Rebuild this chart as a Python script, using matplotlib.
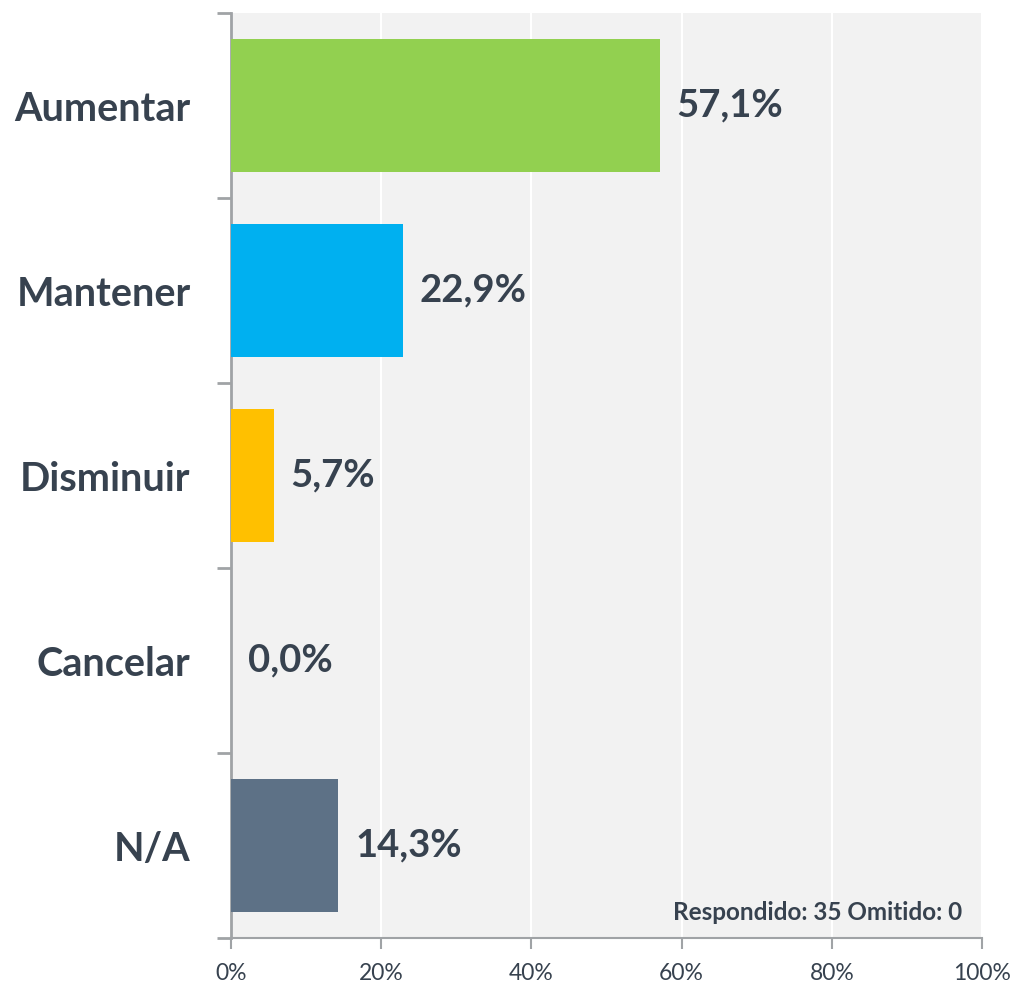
import matplotlib.pyplot as plt
import numpy as np

categories = ['Aumentar', 'Mantener', 'Disminuir', 'Cancelar', 'N/A']
values = [57.1, 22.9, 5.7, 0.0, 14.3]
colors = ['#92d050', '#00b0f0', '#ffc000', '#ffffff', '#5d7186']
xticks = [0, 20, 40, 60, 80, 100]
footer = 'Respondido: 35 Omitido: 0'

plt.rcParams['font.family'] = ['Lato', 'DejaVu Sans']
text_color = '#37424f'
spine_color = '#a0a3a6'

fig = plt.figure(figsize=(10.14, 9.85), dpi=100)
ax = fig.add_axes([0.2278, 0.0477, 0.7406, 0.9391])
ax.set_facecolor('#f2f2f2')

y = np.arange(len(categories))
ax.barh(y, values, height=0.715, color=colors, zorder=3)
ax.set_xlim(0, 100)
ax.set_ylim(len(categories) - 0.5, -0.5)

for yi, v in zip(y, values):
    ax.annotate(f'{v:.1f}%'.replace('.', ','), (v, yi), xytext=(12, 0),
                textcoords='offset points', va='center', ha='left',
                fontsize=27.5, fontweight='bold', color=text_color)

# category labels between the boundary ticks
ax.set_yticks(np.arange(len(categories) + 1) - 0.5)
ax.set_yticklabels([])
ax.set_yticks(y, minor=True)
ax.set_yticklabels(categories, minor=True, fontsize=28.5, fontweight='bold',
                   color=text_color)
ax.tick_params(axis='y', which='minor', length=0, pad=29)
ax.tick_params(axis='y', which='major', length=10, width=2, color=spine_color)

ax.set_xticks(xticks)
ax.set_xticklabels([f'{t}%' for t in xticks], fontsize=16.5, color=text_color)
ax.tick_params(axis='x', length=8, width=1.5, color=spine_color, pad=10)
ax.grid(axis='x', color='white', linewidth=1.5, zorder=1)

for side in ['top', 'right']:
    ax.spines[side].set_visible(False)
ax.spines['left'].set_color(spine_color)
ax.spines['left'].set_linewidth(2)
ax.spines['bottom'].set_color(spine_color)
ax.spines['bottom'].set_linewidth(1.5)

ax.text(0.973, 0.028, footer, transform=ax.transAxes, ha='right', va='center',
        fontsize=17.5, fontweight='bold', color=text_color)

plt.savefig('out.png', dpi=100)
